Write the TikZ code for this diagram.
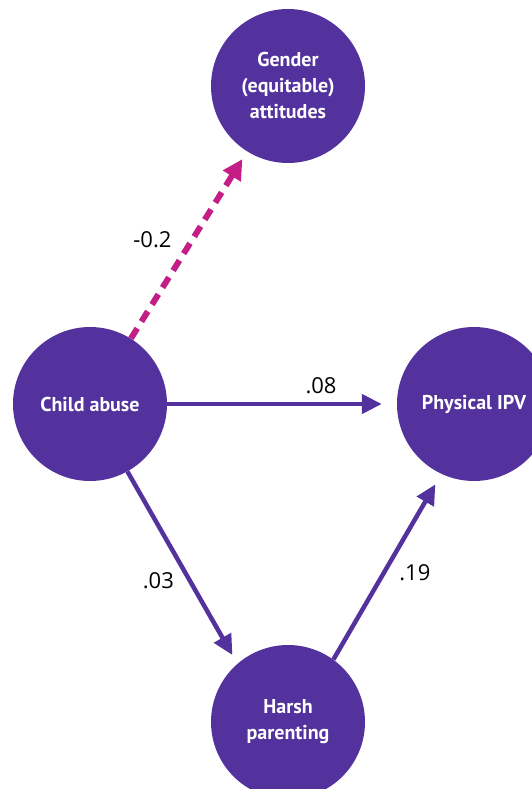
\documentclass[tikz,border=0pt]{standalone}
\usepackage{fontspec}
\setmainfont{PT Sans}
\newfontfamily\numfont{Open Sans}
\usetikzlibrary{arrows.meta}
\definecolor{varpurple}{RGB}{83,50,158}
\definecolor{negpink}{RGB}{196,30,134}

\begin{document}
\begin{tikzpicture}[x=1pt, y=-1pt,
  var/.style={circle, fill=varpurple, minimum size=154pt, inner sep=0pt,
    text=white, font=\fontsize{20}{26}\selectfont\bfseries, align=center},
  path/.style={draw=varpurple, line width=4.5pt,
    -{Triangle[length=20pt, width=19pt]}},
  negpath/.style={draw=negpink, line width=6pt, dash pattern=on 12pt off 8pt,
    -{Triangle[length=20pt, width=20pt]}},
  coef/.style={inner sep=0pt, font=\numfont\fontsize{22}{24}\selectfont},
]
\useasboundingbox (0,0) rectangle (532,789);
\clip (0,0) rectangle (532,789);

\node[var] (gender) at (288,86) {Gender\\(equitable)\\attitudes};
\node[var] (abuse) at (90,404) {Child abuse};
\node[var] (ipv) at (474,404) {Physical IPV};
\node[var] (harsh) at (288,722) {Harsh\\parenting};

\draw[negpath, shorten >=9pt] (abuse.58) -- node[coef, pos=.53, left=18pt] {-0.2} (gender.238);
\draw[path, shorten >=15pt] (abuse) -- node[coef, pos=.67, above=8pt] {.08} (ipv);
\draw[path, shorten >=10pt] (abuse.-61) -- node[coef, pos=.57, left=14pt] {.03} (harsh.131);
\draw[path, shorten >=12pt] (harsh.54) -- node[coef, pos=.47, right=13pt] {.19} (ipv.245);
\end{tikzpicture}
\end{document}
